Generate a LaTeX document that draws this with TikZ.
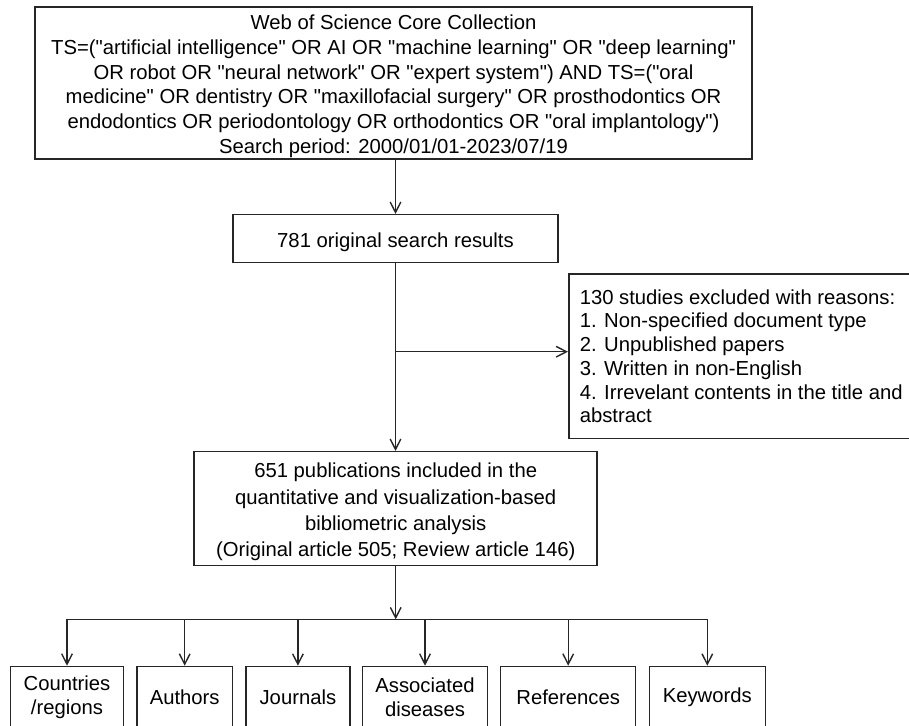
\documentclass[tikz,border=0pt]{standalone}
\usepackage{fontspec}
\setmainfont{Liberation Sans}[Ligatures=TeXOff]
\usetikzlibrary{arrows.meta}
\def\pxu{0.75pt}
\def\tstrut{\rule{0pt}{16.1pt}}
\begin{document}
\begin{tikzpicture}[x=0.75pt,y=-0.75pt,
  box/.style={draw=black!85, line width=1.15pt, rectangle, inner sep=0pt, align=center,
    font=\fontsize{15.2pt}{18.5pt}\selectfont},
  arr/.style={draw=black!85, line width=1.05pt, -{Straight Barb[length=7.8pt,width=8pt,line width=1.05pt]}},
  ln/.style={draw=black!85, line width=1.05pt}]
\useasboundingbox (0,0) rectangle (909,725);
\node[box, minimum width=717*\pxu, minimum height=152*\pxu] (top) at (393.5,83)
  {\tstrut Web of Science Core Collection\\
   TS=("artificial intelligence" OR AI OR "machine learning" OR "deep learning"\\
   OR robot OR "neural network" OR "expert system") AND TS=("oral\\
   medicine" OR dentistry OR "maxillofacial surgery" OR prosthodontics OR\\
   endodontics OR periodontology OR orthodontics OR "oral implantology")\\
   Search period: 2000/01/01-2023/07/19};
\node[box, minimum width=325*\pxu, minimum height=48*\pxu] (r781) at (395.5,238.7)
  {\tstrut 781 original search results};
\node[box, anchor=north west, align=left, inner xsep=11*\pxu, minimum height=164.4*\pxu,
  font=\fontsize{15.2pt}{17.8pt}\selectfont] (excl) at (568,273.3)
  {130 studies excluded with reasons:\\
   1. Non-specified document type\\
   2. Unpublished papers\\
   3. Written in non-English\\
   4. Irrevelant contents in the title and\\
   abstract};
\node[box, minimum width=403*\pxu, minimum height=114*\pxu,
  font=\fontsize{15.2pt}{19.8pt}\selectfont] (pub) at (395.7,508.7)
  {\tstrut 651 publications included in the\\
   quantitative and visualization-based\\
   bibliometric analysis\\
   (Original article 505; Review article 146)};
\tikzset{bot/.style={box, anchor=north, minimum height=61*\pxu,
  font=\fontsize{15.2pt}{17.8pt}\selectfont}}
\node[bot, minimum width=112.6*\pxu] (c1) at (67,665.7) {Countries\\/regions};
\node[bot, minimum width=95.3*\pxu] (c2) at (184.7,665.7) {Authors};
\node[bot, minimum width=104.3*\pxu] (c3) at (297.9,665.7) {Journals};
\node[bot, minimum width=124.6*\pxu] (c4) at (425,665.7) {Associated\\diseases};
\node[bot, minimum width=135*\pxu] (c5) at (568.2,665.7) {References};
\node[bot, minimum width=116*\pxu] (c6) at (707.3,665.7) {Keywords};
\draw[arr] (top.south -| r781.north) -- (r781.north);
\draw[arr] (r781.south) -- (r781.south |- pub.north);
\coordinate (br) at (395.5,351.7);
\draw[arr] (br) -- (br -| excl.west);
\coordinate (bus) at (395.7,619.3);
\draw[arr] (pub.south) -- (bus);
\draw[ln] (c1.north |- bus) -- (c6.north |- bus);
\foreach \n in {c1,c2,c3,c4,c5,c6}
  \draw[arr] (\n.north |- bus) -- (\n.north);
\end{tikzpicture}
\end{document}
